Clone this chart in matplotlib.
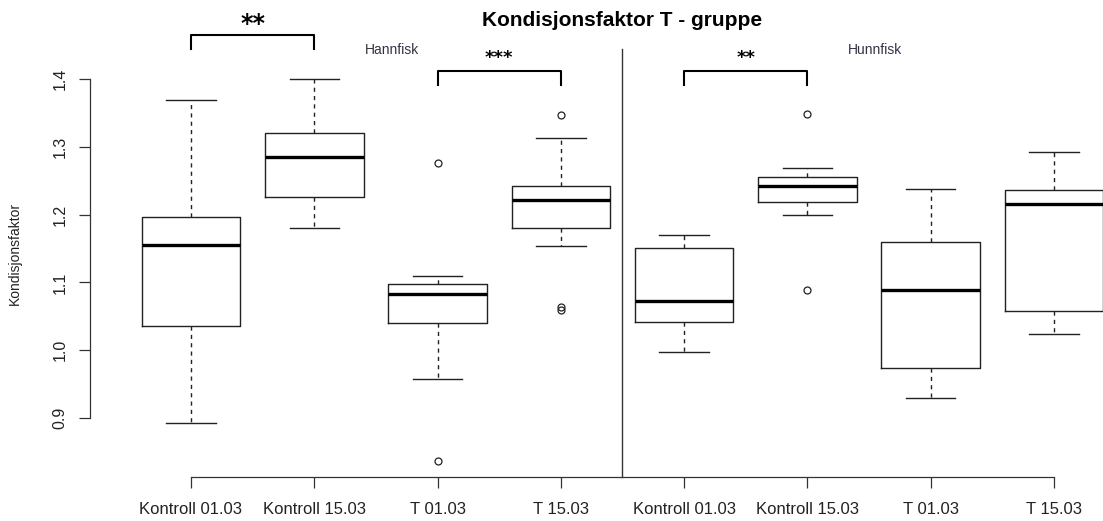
import matplotlib
matplotlib.use("Agg")
import matplotlib.pyplot as plt

plt.rcParams['font.family'] = ['Liberation Sans', 'DejaVu Sans']

# groups (Hannfisk = 1-4, Hunnfisk = 5-8)
labels = ["Kontroll 01.03", "Kontroll 15.03", "T 01.03", "T 15.03",
          "Kontroll 01.03", "Kontroll 15.03", "T 01.03", "T 15.03"]
whislo = [0.892, 1.180, 0.957, 1.154, 0.997, 1.199, 0.929, 1.024]
q1 = [1.035, 1.226, 1.040, 1.180, 1.042, 1.219, 0.974, 1.058]
med = [1.155, 1.285, 1.083, 1.222, 1.073, 1.242, 1.089, 1.215]
q3 = [1.196, 1.321, 1.097, 1.242, 1.151, 1.256, 1.160, 1.237]
whishi = [1.369, 1.400, 1.110, 1.313, 1.170, 1.268, 1.238, 1.293]
fliers = [[], [], [1.276, 0.836], [1.347, 1.060, 1.064], [], [1.349, 1.089], [], []]

yticks = [0.9, 1.0, 1.1, 1.2, 1.3, 1.4]

# significance brackets: (left box, right box), top of bracket, stars
bracket_pairs = [(1, 2), (3, 4), (5, 6)]
bracket_top = [1.465, 1.412, 1.412]
bracket_stars = ["**", "***", "**"]

fig = plt.figure(figsize=(11.03, 5.21), dpi=100)
W, H = 1103, 521
# R-like plot region, cropped on the right side
ax = fig.add_axes([89.9 / W, (H - 476.7) / H, 1065.2 / W, (476.7 - 63.7) / H])

stats = []
for i in range(len(labels)):
    stats.append(dict(whislo=whislo[i], q1=q1[i], med=med[i], q3=q3[i],
                      whishi=whishi[i], fliers=fliers[i]))

line_col = "#222222"
ax.bxp(stats, positions=range(1, len(labels) + 1), widths=0.8, capwidths=0.4,
       boxprops=dict(color=line_col, lw=1.0),
       medianprops=dict(color="black", lw=2.4, solid_capstyle="butt"),
       whiskerprops=dict(color=line_col, lw=1.0, ls=(0, (3, 3))),
       capprops=dict(color=line_col, lw=1.0),
       flierprops=dict(marker="o", mfc="none", mec=line_col, ms=5, mew=0.9))

# R style axis limits (4% padding)
all_vals = whislo + whishi + [v for f in fliers for v in f]
lo, hi = min(all_vals), max(all_vals)
pad = (hi - lo) * 0.04
ax.set_ylim(lo - pad, hi + pad)
ax.set_xlim(0.18, 8.82)

for s in ["top", "right"]:
    ax.spines[s].set_visible(False)
ax.spines["left"].set_bounds(yticks[0], yticks[-1])
ax.spines["bottom"].set_bounds(1, len(labels))
for s in ["left", "bottom"]:
    ax.spines[s].set_color("#333333")
    ax.spines[s].set_linewidth(0.9)

ax.set_yticks(yticks)
ax.set_yticklabels([f"{v:.1f}" for v in yticks], rotation=90, va="center", fontsize=11.5, color="#222222")
ax.set_xticks(range(1, len(labels) + 1))
ax.set_xticklabels(labels, fontsize=12, color="#222222")
ax.tick_params(axis="both", length=8, width=0.9, color="#333333")
ax.tick_params(axis="y", pad=8)
ax.tick_params(axis="x", pad=10)

# separator between male and female fish
ax.plot([4.5, 4.5], [lo - pad, 1.444], color="#333333", lw=1.0, clip_on=False)

ax.text(2.63, 1.443, "Hannfisk", fontsize=10, color="#333344", ha="center", va="center", clip_on=False)
ax.text(6.55, 1.443, "Hunnfisk", fontsize=10, color="#333344", ha="center", va="center", clip_on=False)

# brackets with stars
for (a, b), top, st in zip(bracket_pairs, bracket_top, bracket_stars):
    ax.plot([a, a, b, b], [top - 0.021, top, top, top - 0.021], color="black", lw=1.5, clip_on=False)
    big = top > 1.44
    size = 17 if big else 13
    off = -0.001 if big else 0.005
    ax.text((a + b) / 2, top + off, st, fontsize=size, fontweight="bold", ha="center",
            va="bottom", family="DejaVu Sans", clip_on=False)

fig.text(622 / W, 1 - 21 / H, "Kondisjonsfaktor T - gruppe", fontsize=15, fontweight="bold",
         ha="center", va="center")
fig.text(15 / W, 1 - 253 / H, "Kondisjonsfaktor", fontsize=10, rotation=90,
         ha="center", va="center", color="#222222")

fig.savefig("out.png", dpi=100)
